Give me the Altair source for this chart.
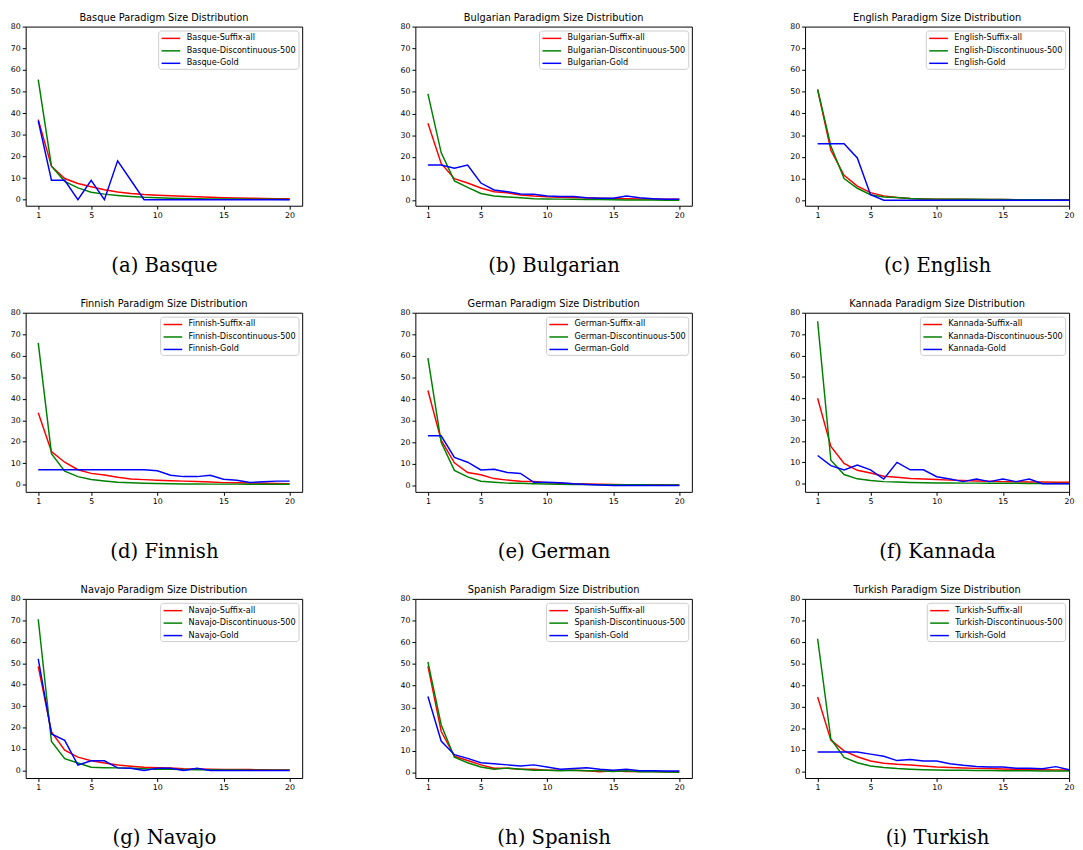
import altair as alt
import pandas as pd

sizes = list(range(1, 21))
tick_x = [1, 5, 10, 15, 20]
tick_y = [0, 10, 20, 30, 40, 50, 60, 70, 80]
languages = ["Basque", "Bulgarian", "English", "Finnish", "German",
             "Kannada", "Navajo", "Spanish", "Turkish"]
letters = ["a", "b", "c", "d", "e", "f", "g", "h", "i"]
series_names = ["Suffix-all", "Discontinuous-500", "Gold"]
series_colors = ["#ff0000", "#008000", "#0000ff"]

basque_suffix = [37, 15.5, 9.8, 7.5, 6, 4.6, 3.6, 2.9, 2.4, 2.1, 1.8, 1.6, 1.4, 1.1, 0.9, 0.8, 0.7, 0.6, 0.5, 0.5]
basque_disc = [55.5, 15.5, 8.5, 5.5, 3.5, 2.6, 2.0, 1.5, 1.1, 0.9, 0.7, 0.6, 0.5, 0.4, 0.3, 0.3, 0.2, 0.2, 0.2, 0.1]
basque_gold = [36.5, 9, 9, 0, 9, 0, 18, 9, 0, 0, 0, 0, 0, 0, 0, 0, 0, 0, 0, 0]

bulgarian_suffix = [35.5, 17, 10, 8, 5.7, 4, 3.5, 2.5, 2, 1.7, 1.5, 1.3, 1.1, 1.0, 0.9, 0.8, 0.7, 0.6, 0.5, 0.5]
bulgarian_disc = [49, 22, 9, 6, 3.2, 2, 1.6, 1.2, 0.8, 0.7, 0.6, 0.5, 0.4, 0.4, 0.3, 0.2, 0.2, 0.2, 0.1, 0.1]
bulgarian_gold = [16.3, 16.3, 14.8, 16.3, 8, 4.8, 4, 3, 2.8, 2, 1.8, 1.8, 1.2, 1, 1, 2, 1.2, 0.8, 0.5, 0.5]

english_suffix = [51, 23, 11.5, 6.5, 3.5, 2, 1.2, 0.8, 0.6, 0.5, 0.4, 0.4, 0.3, 0.3, 0.3, 0.2, 0.2, 0.2, 0.2, 0.2]
english_disc = [51, 25, 10, 5.5, 2.5, 1.5, 1.2, 0.8, 0.6, 0.5, 0.4, 0.4, 0.4, 0.3, 0.3, 0.2, 0.2, 0.2, 0.1, 0.1]
english_gold = [26, 26, 26, 19.5, 2.5, 0, 0, 0, 0, 0, 0, 0, 0, 0, 0, 0, 0, 0, 0, 0]

finnish_suffix = [33.5, 15.5, 10.5, 7, 5.3, 4.5, 3.5, 2.7, 2.4, 2.1, 1.9, 1.7, 1.5, 1.3, 1.0, 0.9, 0.8, 0.7, 0.6, 0.5]
finnish_disc = [66, 14.5, 6.3, 3.8, 2.5, 1.8, 1.2, 0.9, 0.7, 0.6, 0.5, 0.4, 0.4, 0.3, 0.3, 0.3, 0.2, 0.2, 0.2, 0.2]
finnish_gold = [7, 7, 7, 7, 7, 7, 7, 7, 7, 6.5, 4.4, 3.8, 3.8, 4.4, 2.6, 2.1, 1.1, 1.4, 1.7, 1.7]

german_suffix = [44, 21, 10.5, 6, 5, 3.2, 2.5, 2, 1.9, 1.3, 1, 0.8, 0.7, 0.6, 0.5, 0.4, 0.3, 0.3, 0.2, 0.2]
german_disc = [59, 20, 7, 4, 2, 1.5, 1.1, 1, 0.8, 0.7, 0.6, 0.5, 0.5, 0.4, 0.4, 0.3, 0.3, 0.2, 0.2, 0.2]
german_gold = [23, 23, 13, 10.8, 7.2, 7.5, 6, 5.6, 1.5, 1.5, 1.3, 0.8, 0.5, 0.2, 0, 0, 0, 0, 0, 0]

kannada_suffix = [40, 17.5, 9.5, 6.3, 5, 3.5, 3, 2.5, 2.2, 2, 1.7, 1.5, 1.3, 1.2, 1, 0.9, 0.8, 0.8, 0.7, 0.7]
kannada_disc = [76, 11, 4.3, 2.3, 1.5, 1, 0.8, 0.6, 0.5, 0.4, 0.4, 0.3, 0.3, 0.2, 0.2, 0.2, 0.1, 0.1, 0.1, 0.1]
kannada_gold = [13.2, 8.5, 6.5, 8.8, 6.5, 2.2, 10, 6.5, 6.5, 3.3, 2.2, 1, 2.2, 1, 2.2, 1, 2.2, 0, 0, 0]

navajo_suffix = [48.5, 18, 9.5, 6.2, 4.5, 3.5, 2.5, 2, 1.5, 1.3, 1.2, 0.8, 0.7, 0.6, 0.5, 0.5, 0.4, 0.3, 0.2, 0.2]
navajo_disc = [70.5, 13.5, 5.5, 3.5, 1.5, 1.3, 1.2, 1, 0.8, 0.5, 0.5, 0.4, 0.3, 0.3, 0.2, 0.2, 0.1, 0.1, 0.1, 0.1]
navajo_gold = [52, 17, 14, 2.5, 4.5, 4.5, 1.2, 1, 0, 1, 1, 0, 1, 0, 0, 0, 0, 0, 0, 0]

spanish_suffix = [49, 19, 7.5, 5.5, 3.5, 2, 2, 1.5, 1.5, 1, 1, 1, 0.8, 0.3, 0.8, 0.5, 0.5, 0.4, 0.3, 0.3]
spanish_disc = [51, 22, 7, 4.5, 2.5, 1.5, 2, 1.5, 1, 1, 0.8, 1, 0.8, 0.8, 0.5, 0.8, 0.3, 0.3, 0.2, 0.1]
spanish_gold = [35, 14.5, 8.2, 6.5, 4.5, 4, 3.5, 3, 3.5, 2.5, 1.5, 1.8, 2.2, 1.5, 1, 1.5, 0.8, 0.8, 0.7, 0.7]

turkish_suffix = [34.5, 14.5, 9.5, 6.8, 4.8, 3.8, 3.3, 3, 2.5, 2, 1.8, 1.6, 1.4, 1.3, 1.1, 1, 0.9, 0.8, 0.7, 0.6]
turkish_disc = [61.5, 15, 6.5, 4, 2.5, 1.8, 1.3, 1, 0.8, 0.6, 0.5, 0.5, 0.4, 0.4, 0.3, 0.3, 0.3, 0.2, 0.2, 0.2]
turkish_gold = [9, 9, 9, 9, 8, 7, 5, 5.5, 4.8, 4.8, 3.5, 2.8, 2.3, 2, 2, 1.5, 1.5, 1.2, 2.2, 0.8]

panel_values = [
    [basque_suffix, basque_disc, basque_gold],
    [bulgarian_suffix, bulgarian_disc, bulgarian_gold],
    [english_suffix, english_disc, english_gold],
    [finnish_suffix, finnish_disc, finnish_gold],
    [german_suffix, german_disc, german_gold],
    [kannada_suffix, kannada_disc, kannada_gold],
    [navajo_suffix, navajo_disc, navajo_gold],
    [spanish_suffix, spanish_disc, spanish_gold],
    [turkish_suffix, turkish_disc, turkish_gold],
]

PANEL_W = 281.7
PANEL_H = 182.5
X_LO, X_HI = 0.05, 20.95
LAST_W = 269


def make_panel(idx):
    lang = languages[idx]
    values = panel_values[idx]
    labels = [f"{lang}-{s}" for s in series_names]
    top = max(max(v) for v in values)
    ymin = -0.05 * top
    last_col = (idx % 3 == 2)
    width = LAST_W if last_col else PANEL_W
    x_hi = X_LO + width * (X_HI - X_LO) / PANEL_W
    layers = []
    for lab, vals in zip(labels, values):
        df = pd.DataFrame({"size": sizes, "pct": vals, "series": lab})
        layers.append(
            alt.Chart(df).mark_line(strokeWidth=1.5, clip=True).encode(
                x=alt.X("size:Q",
                        scale=alt.Scale(domain=[X_LO, x_hi], nice=False, zero=False),
                        axis=alt.Axis(values=tick_x, title=f"({letters[idx]}) {lang}",
                                      titleFont="DejaVu Serif", titleFontSize=20,
                                      titleFontWeight="normal", titleColor="black",
                                      titlePadding=37, labelFlush=False)),
                y=alt.Y("pct:Q",
                        scale=alt.Scale(domain=[ymin, 80], nice=False, zero=False),
                        axis=alt.Axis(values=tick_y, title=None)),
                color=alt.Color("series:N",
                                scale=alt.Scale(domain=labels, range=series_colors),
                                legend=alt.Legend(title=None, orient="top-right")),
            )
        )
    return alt.layer(*layers).properties(
        width=width, height=PANEL_H,
        title=alt.Title(f"{lang} Paradigm Size Distribution", offset=-0.5,
                        font="DejaVu Sans", fontSize=10, fontWeight="normal",
                        color="black", anchor="middle"),
    )


rows = []
for r in range(3):
    rows.append(
        alt.hconcat(*[make_panel(r * 3 + c) for c in range(3)], spacing=97)
        .resolve_scale(color="independent")
    )

chart = (
    alt.vconcat(*rows, spacing=23.5)
    .resolve_scale(color="independent")
    .properties(padding={"left": 1, "top": -3, "right": 0, "bottom": 0})
    .configure_view(stroke="black", strokeWidth=1)
    .configure_axis(
        domain=False, grid=False, tickColor="black", tickSize=3.5, tickWidth=1,
        labelFont="DejaVu Sans", labelFontSize=8, labelColor="black", labelPadding=2,
    )
    .configure_legend(
        offset=4, padding=2, strokeColor="#cccccc", cornerRadius=3,
        fillColor="rgba(255,255,255,0.8)", symbolType="M-1.9,0H1.9",
        symbolSize=100, symbolStrokeWidth=1.5, labelFont="DejaVu Sans",
        labelFontSize=8.3, labelColor="black", rowPadding=2.7,
        symbolOffset=5, labelOffset=10,
    )
)

chart.save("out.html", embed_options={"renderer": "svg", "actions": False})
